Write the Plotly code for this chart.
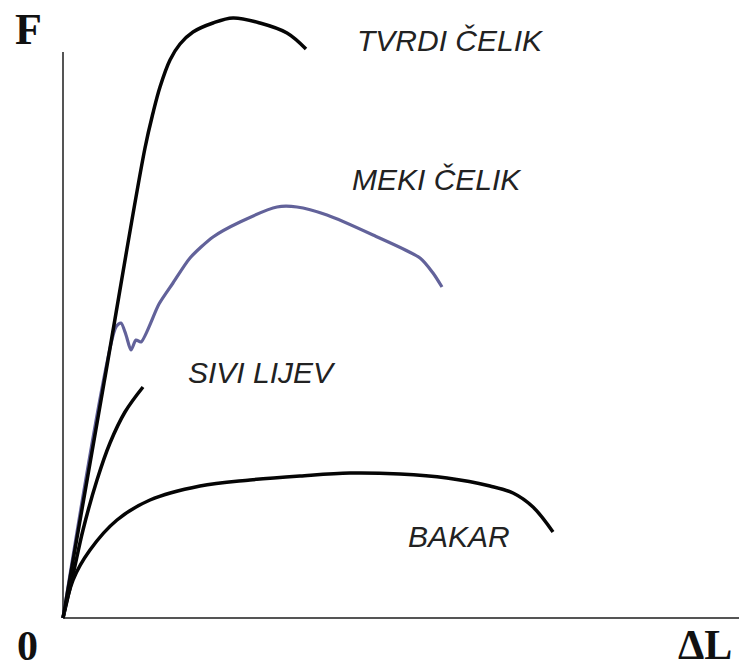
import plotly.graph_objects as go

# Data (ΔL, F) in arbitrary units, origin at the corner of the axes
tvrdi_dl = [0, 41, 82, 90, 97, 107, 117, 130, 150, 170, 197, 224, 243]
tvrdi_f = [0, 235, 470, 505, 531, 558, 574, 586, 595, 600, 595, 585, 569]

meki_dl = [0, 53, 58, 63, 68, 73, 78, 96, 110, 127, 150, 177, 214, 234, 264, 310, 357, 370, 379]
meki_f = [0, 291, 295, 283, 268, 278, 276, 314, 335, 360, 381, 396, 411, 411, 403, 383, 360, 345, 331]

sivi_dl = [0, 10, 20, 34, 47, 62, 80]
sivi_f = [0, 43, 88, 138, 175, 206, 231]

bakar_dl = [0, 10, 27, 54, 87, 137, 187, 237, 287, 337, 384, 427, 450, 470, 490]
bakar_f = [0, 38, 68, 98, 118, 132, 138, 142, 145, 144, 140, 132, 125, 111, 86]

labels = ["TVRDI ČELIK", "MEKI ČELIK", "SIVI LIJEV", "BAKAR"]
label_dl = [387, 374, 199, 396]
label_f = [578, 439, 246, 82]

axis_dl_max = 676
axis_f_max = 566

fig = go.Figure()

black = "#050505"
fig.add_trace(go.Scatter(x=bakar_dl, y=bakar_f, mode="lines", line=dict(color=black, width=3.5, shape="spline", smoothing=1.0)))
fig.add_trace(go.Scatter(x=sivi_dl, y=sivi_f, mode="lines", line=dict(color=black, width=3.5, shape="spline", smoothing=1.0)))
fig.add_trace(go.Scatter(x=meki_dl, y=meki_f, mode="lines", line=dict(color="#62629a", width=3.2, shape="spline", smoothing=0.7)))
fig.add_trace(go.Scatter(x=tvrdi_dl, y=tvrdi_f, mode="lines", line=dict(color=black, width=3.5, shape="spline", smoothing=1.0)))

# axes lines
fig.add_shape(type="line", x0=0, y0=0, x1=0, y1=axis_f_max, xref="x", yref="y", line=dict(color="#555555", width=2), layer="below")
fig.add_shape(type="line", x0=0, y0=0, x1=axis_dl_max, y1=0, xref="x", yref="y", line=dict(color="#555555", width=2), layer="below")

for t, x, y in zip(labels, label_dl, label_f):
    fig.add_annotation(x=x, y=y, text=t, showarrow=False, xref="x", yref="y",
                       font=dict(family="Liberation Sans", size=30, color="#222222", style="italic"))

serif = dict(family="Liberation Serif", size=44, color="#111111", weight="bold")
serif_small = dict(family="Liberation Serif", size=42, color="#111111", weight="bold")
fig.add_annotation(x=-35, y=589, text="<b>F</b>", showarrow=False, xref="x", yref="y", font=serif)
fig.add_annotation(x=-36, y=-28, text="<b>0</b>", showarrow=False, xref="x", yref="y", font=serif_small)
fig.add_annotation(x=642, y=-27, text="<b>ΔL</b>", showarrow=False, xref="x", yref="y", font=serif_small)

fig.update_layout(
    width=739, height=670,
    margin=dict(l=0, r=0, t=0, b=0),
    paper_bgcolor="white", plot_bgcolor="white",
    showlegend=False,
    xaxis=dict(range=[-63, 676], visible=False, fixedrange=True),
    yaxis=dict(range=[-52, 618], visible=False, fixedrange=True),
)

fig.write_html("out.html", config={"displayModeBar": False},
               post_script="document.body.style.margin='0';")
